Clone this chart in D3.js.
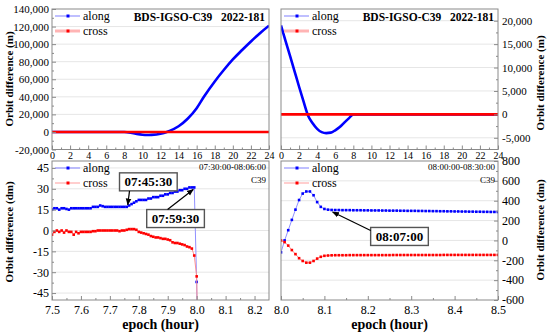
<!DOCTYPE html>
<html><head><meta charset="utf-8">
<script src="https://cdn.jsdelivr.net/npm/d3@7"></script>
<style>
body{margin:0;background:#fff}
svg{display:block}
text{font-family:"Liberation Serif","Times New Roman","DejaVu Serif",serif;fill:#000}
</style>
</head><body>
<svg id="c" width="550" height="335"></svg>
<script>
// ---------------- DATA ----------------
// Top-left: full day 2022-181, metres
const tlHours = [0, 2, 4, 6, 8, 9, 10, 10.5, 11, 12, 12.7, 13, 14, 15, 16, 16.8, 18, 19, 20, 21, 22, 23, 24];
const tlAlong = [0, 0, 0, 0, 0, -1500, -3200, -3500, -3300, -2000, 0, 1200, 6500, 15000, 27000, 40000, 57500, 70500, 82500, 93000, 103000, 112500, 121000];
const tlCrossHours = [0, 24];
const tlCross = [0, 0];
// Top-right: metres
const trHours = [0, 0.5, 1, 1.5, 2, 2.5, 3, 3.5, 4, 4.5, 5, 5.5, 6, 6.5, 7, 7.5, 8, 24];
const trAlong = [19000, 15700, 12500, 9200, 5900, 2700, -300, -1900, -3100, -3800, -4000, -3900, -3400, -2700, -1750, -850, 0, 0];
const trCrossHours = [0, 24];
const trCross = [0, 0];
// Bottom-left: minutes after 07:00, decimetres
const blMinutes = [30,30.5,31,31.5,32,32.5,33,33.5,34,34.5,35,35.5,36,36.5,37,37.5,38,38.5,39,39.5,40,40.5,41,41.5,42,42.5,43,43.5,44,44.5,45,45.5,46,46.5,47,47.5,48,48.5,49,49.5,50,50.5,51,51.5,52,52.5,53,53.5,54,54.5,55,55.5,56,56.5,57,57.5,58,58.5,59,59.5,60,60.5];
const blAlong = [15,16,16,15,16,16,15.5,15,16,16,
  16,16,16,16,16,16,16,17,17,17,
  18,17.5,17,17,17,17,17,17,17,17,
  17,17,18,19,20,21,22,22,22,22,
  23,23,24,24,24,25,25,26,26,27,
  27,28,28,29,29,30,30,31,31,31,
  -37,-160];
const blCross = [-3,-1,0,-1,0,-1.5,0,-1,-1,-3,
  -1,-2,-1,-1,-1,-1,-1,-0.5,-0.5,0,
  0,0,0,0,0,0,0,0,-0.5,0,
  0,0.5,1,1,1,0.5,-1,-1.5,-2,-2.5,
  -3,-4,-4.5,-5,-5,-5.5,-6,-6,-6.5,-7,
  -8.5,-9,-9,-9.5,-10,-10.5,-11.5,-12,-13,-18,
  -33,-130];
// Bottom-right: minutes after 08:00, decimetres
const brMinutes = [0,0.5,1,1.5,2,2.5,3,3.5,4,4.5,5,5.5,6,6.5,7,7.5,8,8.5,9,9.5,10,10.5,11,11.5,12,12.5,13,13.5,14,14.5,15,15.5,16,16.5,17,17.5,18,18.5,19,19.5,20,20.5,21,21.5,22,22.5,23,23.5,24,24.5,25,25.5,26,26.5,27,27.5,28,28.5,29,29.5,30];
const brAlong = [-120,0,103,207,310,407,472,493,493,455,386,338,317,310,307,
  306,306,305,305,305,304,304,304,303,303,302,302,302,301,301,300,300,300,299,299,
  298,298,298,297,297,296,296,295,295,294,294,293,293,292,292,291,291,290,290,289,
  289,288,288,287,287,286];
const brCross = [0,-17,-52,-97,-138,-179,-207,-224,-224,-207,-183,-165,-155,-152,-150,
  -149,-149,-149,-149,-148,-148,-148,-148,-148,-148,-148,-148,-148,-148,-148,-148,
  -147,-147,-147,-147,-147,-147,-147,-147,-147,-147,-147,-147,-147,-147,
  -146,-146,-146,-146,-146,-146,-146,-146,-146,-146,-146,-146,-146,-146,-146,-146];

// tick values
const topXTicks = [0,2,4,6,8,10,12,14,16,18,20,22,24];
const tlYTicks = [-20000,0,20000,40000,60000,80000,100000,120000,140000];
const trYTicks = [-5000,0,5000,10000,15000,20000];
const blXTicks = [7.5,7.6,7.7,7.8,7.9,8.0,8.1,8.2];
const blYTicks = [-45,-30,-15,0,15,30,45];
const brXTicks = [8.0,8.1,8.2,8.3,8.4,8.5];
const brYTicks = [-600,-400,-200,0,200,400,600,800];

const seriesNames = ["along", "cross"];
const titleText = "BDS-IGSO-C39\u00a0\u00a0\u00a02022-181";

// ---------------- DRAW ----------------
const FONT = '"Liberation Serif","Times New Roman","DejaVu Serif",serif';
const svg = d3.select("#c");
const loc = d3.formatLocale({decimal:".", thousands:",", grouping:[3], currency:["",""], minus:"-"});
const fComma = loc.format(",");
const fInt = loc.format("d");
const f1 = loc.format(".1f");

const defs = svg.append("defs");
defs.append("marker").attr("id","arr").attr("viewBox","0 0 10 10").attr("refX",9).attr("refY",5)
  .attr("markerWidth",7).attr("markerHeight",7).attr("orient","auto-start-reverse")
  .attr("markerUnits","userSpaceOnUse")
  .append("path").attr("d","M0,1 L10,5 L0,9 Z").attr("fill","#000");

function minorVals(ticks, domain){
  const out=[]; const s=(ticks[1]-ticks[0])/2;
  for(let i=0;i<ticks.length-1;i++){ const v=ticks[i]+s; if(v>domain[0]&&v<domain[1]) out.push(v); }
  if(ticks[0]-s>domain[0]) out.push(ticks[0]-s);
  if(ticks[ticks.length-1]+s<domain[1]) out.push(ticks[ticks.length-1]+s);
  return out;
}

function panel(o){
  const x = d3.scaleLinear().domain(o.xd).range([o.l,o.r]);
  const y = d3.scaleLinear().domain(o.yd).range([o.b,o.t]);
  const g = svg.append("g");
  g.append("g").selectAll("line").data(o.yt.filter(v=>v>o.yd[0]&&v<o.yd[1])).join("line")
    .attr("x1",o.l).attr("x2",o.r).attr("y1",d=>y(d)).attr("y2",d=>y(d))
    .attr("stroke","#e6e6e6").attr("stroke-width",1);
  defs.append("clipPath").attr("id","cp"+o.id).append("rect")
    .attr("x",o.l).attr("y",o.t).attr("width",o.r-o.l).attr("height",o.b-o.t);
  const plot = g.append("g").attr("clip-path",`url(#cp${o.id})`);
  g.append("rect").attr("x",o.l).attr("y",o.t).attr("width",o.r-o.l).attr("height",o.b-o.t)
    .attr("fill","none").attr("stroke","#8a8a8a").attr("stroke-width",1);
  // x axis
  const xa = g.append("g").attr("transform",`translate(0,${o.b})`)
    .call(d3.axisBottom(x).tickValues(o.xt).tickSize(-4).tickPadding(o.xpad).tickFormat(o.xf))
    .attr("font-family",FONT);
  g.append("g").attr("transform",`translate(0,${o.b})`)
    .call(d3.axisBottom(x).tickValues(minorVals(o.xt,o.xd)).tickSize(-2).tickFormat(""))
    .call(a=>a.select(".domain").remove()).selectAll("line").attr("stroke","#8a8a8a");
  xa.select(".domain").remove();
  xa.selectAll("line").attr("stroke","#8a8a8a");
  xa.selectAll("text").attr("font-size",o.xfs).style("font-family",FONT);
  // y axis
  const yAxisFn = o.right ? d3.axisRight : d3.axisLeft;
  const ya = g.append("g").attr("transform",`translate(${o.right?o.r:o.l},0)`)
    .call(yAxisFn(y).tickValues(o.yt).tickSize(-4).tickPadding(o.right?4:3).tickFormat(o.yf))
    .attr("font-family",FONT);
  g.append("g").attr("transform",`translate(${o.right?o.r:o.l},0)`)
    .call(yAxisFn(y).tickValues(minorVals(o.yt,o.yd)).tickSize(-2).tickFormat(""))
    .call(a=>a.select(".domain").remove()).selectAll("line").attr("stroke","#8a8a8a");
  ya.select(".domain").remove();
  ya.selectAll("line").attr("stroke","#8a8a8a");
  ya.selectAll("text").attr("font-size",o.yfs).style("font-family",FONT);
  return {x,y,g,plot,o};
}

function legend(p, lineW){
  const o=p.o;
  const items=[{n:seriesNames[0],lc:"#9c9cff",dc:"#0000ff",w:1.3},{n:seriesNames[1],lc:"#ffb4b4",dc:"#ff0000",w:lineW}];
  items.forEach((it,i)=>{
    const yy=o.t+7+i*15;
    p.g.append("line").attr("x1",o.l+3).attr("x2",o.l+28).attr("y1",yy).attr("y2",yy)
      .attr("stroke",it.lc).attr("stroke-width",it.w);
    p.g.append("rect").attr("x",o.l+14.5).attr("y",yy-1.5).attr("width",3).attr("height",3).attr("fill",it.dc);
    p.g.append("text").attr("x",o.l+31).attr("y",yy).attr("dy","0.33em").attr("font-size",12).text(it.n);
  });
}

// Top-left
const TL = panel({id:"tl",l:52,r:269,t:9,b:149.5,xd:[0,24],yd:[-20000,140000],xt:topXTicks,yt:tlYTicks,
  xf:fInt,yf:fComma,xfs:10,yfs:11,xpad:2,right:false});
// Top-right
const TR = panel({id:"tr",l:281,r:498,t:9,b:149.5,xd:[0,24],yd:[-7500,22500],xt:topXTicks,yt:trYTicks,
  xf:fInt,yf:fComma,xfs:10,yfs:11,xpad:2,right:true});
// Bottom-left
const BL = panel({id:"bl",l:52,r:269,t:161,b:300,xd:[7.5,8.25],yd:[-50,50],xt:blXTicks,yt:blYTicks,
  xf:f1,yf:fInt,xfs:12,yfs:12,xpad:5.5,right:false});
// Bottom-right
const BR = panel({id:"br",l:281,r:498,t:161,b:300,xd:[8.0,8.5],yd:[-600,800],xt:brXTicks,yt:brYTicks,
  xf:f1,yf:fInt,xfs:12,yfs:12,xpad:5.5,right:true});

// top panel curves
function bigLine(p, hours, vals, color){
  const pts = hours.map((h,i)=>[h,vals[i]]);
  p.plot.append("path").datum(pts)
    .attr("d", d3.line().x(d=>p.x(d[0])).y(d=>p.y(d[1])).curve(d3.curveMonotoneX))
    .attr("fill","none").attr("stroke",color).attr("stroke-width",2.6);
}
bigLine(TL, tlHours, tlAlong, "#0000ff");
bigLine(TL, tlCrossHours, tlCross, "#ff0000");
bigLine(TR, trHours, trAlong, "#0000ff");
bigLine(TR, trCrossHours, trCross, "#ff0000");

// bottom panel dotted series
function dotted(p, baseHour, minutes, vals, lineColor, dotColor){
  const pts = minutes.map((m,i)=>[baseHour+m/60, vals[i]]);
  p.plot.append("path").datum(pts)
    .attr("d", d3.line().x(d=>p.x(d[0])).y(d=>p.y(d[1])))
    .attr("fill","none").attr("stroke",lineColor).attr("stroke-width",1);
  p.plot.append("g").selectAll("rect").data(pts).join("rect")
    .attr("x",d=>p.x(d[0])-1.3).attr("y",d=>p.y(d[1])-1.3).attr("width",2.6).attr("height",2.6)
    .attr("fill",dotColor);
}
dotted(BL, 7, blMinutes, blAlong, "#9090ff", "#0000ff");
dotted(BL, 7, blMinutes, blCross, "#ff9090", "#ff0000");
dotted(BR, 8, brMinutes, brAlong, "#9090ff", "#0000ff");
dotted(BR, 8, brMinutes, brCross, "#ff9090", "#ff0000");

legend(TL, 3); legend(TR, 3); legend(BL, 1.3); legend(BR, 1.3);

// titles inside top panels
[TL,TR].forEach(p=>{
  p.g.append("text").attr("x",p.o.r-4).attr("y",p.o.t+12).attr("text-anchor","end")
    .attr("font-size",11.5).attr("font-weight","bold").text(titleText);
});
// window labels
[[BL,"07:30:00-08:06:00"],[BR,"08:00:00-08:30:00"]].forEach(([p,s])=>{
  p.g.append("text").attr("x",p.o.r-3).attr("y",p.o.t+9).attr("text-anchor","end").attr("font-size",9).text(s);
  p.g.append("text").attr("x",p.o.r-3).attr("y",p.o.t+22).attr("text-anchor","end").attr("font-size",9).text("C39");
});

// axis titles
function yTitle(x, yc, s){
  svg.append("text").attr("transform",`translate(${x},${yc}) rotate(-90)`).attr("text-anchor","middle")
    .attr("dominant-baseline","central").attr("font-size",11).attr("font-weight","bold").text(s);
}
yTitle(9, 79, "Orbit difference (m)");
yTitle(540, 83, "Orbit difference (m)");
yTitle(9, 232, "Orbit difference (dm)");
yTitle(540, 230, "Orbit difference (dm)");
[[BL],[BR]].forEach(([p])=>{
  svg.append("text").attr("x",(p.o.l+p.o.r)/2).attr("y",324).attr("text-anchor","middle")
    .attr("dominant-baseline","central").attr("font-size",14).attr("font-weight","bold").text("epoch (hour)");
});

// annotations: target = data point, box centre in data units
const annotations = [
  {p:BL, label:"07:45:30", base:7, minute:blMinutes[31], value:blAlong[31], bx:7.833, by:35, from:"bottom"},
  {p:BL, label:"07:59:30", base:7, minute:blMinutes[59], value:blAlong[59], bx:7.927, by:8.6, from:"top"},
  {p:BR, label:"08:07:00", base:8, minute:brMinutes[14], value:brAlong[14], bx:8.273, by:40, from:"left"}
];
annotations.forEach(a=>{
  const p=a.p;
  const cx=p.x(a.bx), cy=p.y(a.by);
  const t = svg.append("text").attr("x",cx).attr("y",cy).attr("text-anchor","middle")
    .attr("dominant-baseline","central").attr("font-size",13).attr("font-weight","bold").text(a.label);
  const bb = t.node().getBBox();
  const bw = bb.width+10, bh = 18;
  svg.insert("rect", () => t.node()).attr("x",cx-bw/2).attr("y",cy-bh/2).attr("width",bw).attr("height",bh)
    .attr("fill","#fff").attr("stroke","#555").attr("stroke-width",1.4);
  const tx=p.x(a.base+a.minute/60), ty=p.y(a.value);
  let sx, sy;
  if(a.from==="bottom"){ sx=cx-bw/2+10; sy=cy+bh/2; }
  else if(a.from==="top"){ sx=cx-8; sy=cy-bh/2; }
  else { sx=cx-bw/2; sy=cy-bh/2+3; }
  svg.append("line").attr("x1",sx).attr("y1",sy).attr("x2",tx+(sx<tx?-1:1)).attr("y2",ty+(sy>ty?2:-2))
    .attr("stroke","#000").attr("stroke-width",1.2).attr("marker-end","url(#arr)");
});
</script>
</body></html>
